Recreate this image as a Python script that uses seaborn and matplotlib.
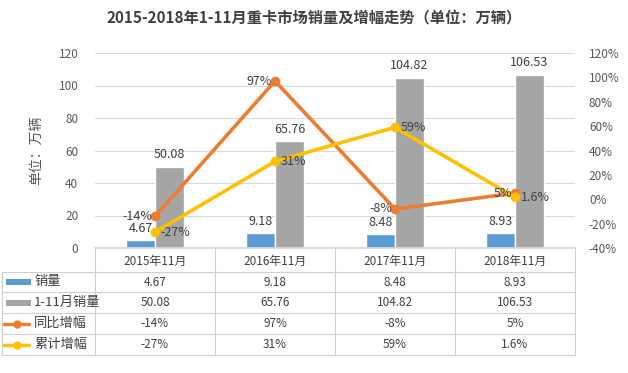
import matplotlib
matplotlib.use("Agg")
import matplotlib.pyplot as plt
import seaborn as sns
import pandas as pd
from matplotlib.lines import Line2D
from matplotlib.patches import Rectangle

# data
months = ["2015年11月", "2016年11月", "2017年11月", "2018年11月"]
sales_nov = [4.67, 9.18, 8.48, 8.93]
sales_ytd = [50.08, 65.76, 104.82, 106.53]
yoy_growth = [-14, 97, -8, 5]
ytd_growth = [-27, 31, 59, 1.6]
yoy_text = ["-14%", "97%", "-8%", "5%"]
ytd_text = ["-27%", "31%", "59%", "1.6%"]
series_names = ["销量", "1-11月销量", "同比增幅", "累计增幅"]

BLUE, GRAY, ORANGE, YELLOW = "#5B9BD5", "#A5A5A5", "#ED7D31", "#FFC000"
TXT = "#404040"
GRID = "#D9D9D9"

sns.set_theme(style="white")
plt.rcParams["font.family"] = ["Noto Sans CJK SC", "DejaVu Sans"]

W, H = 628, 373
fig = plt.figure(figsize=(W / 100, H / 100), dpi=100)
L, R, T, B = 95, 575, 53, 248
ax = fig.add_axes([L / W, 1 - B / H, (R - L) / W, (B - T) / H])

bars = pd.DataFrame({
    "month": months * 2,
    "value": sales_nov + sales_ytd,
    "series": [series_names[0]] * 4 + [series_names[1]] * 4,
})
sns.barplot(data=bars, x="month", y="value", hue="series",
            palette=[BLUE, GRAY], width=0.48, saturation=1,
            legend=False, ax=ax)
for cont in ax.containers:
    ax.bar_label(cont, labels=[f"{v:.2f}" for v in cont.datavalues],
                 padding=4, fontsize=9, color=TXT)

ax.set_ylim(0, 120)
ax.set_yticks(range(0, 121, 20))
ax.set_xlabel("")
ax.set_ylabel("单位：万辆", fontsize=10, color="#595959", labelpad=10)
ax.set_xticklabels([])
ax.tick_params(axis="y", length=0, labelsize=8.5, labelcolor="#595959", pad=12)
ax.tick_params(axis="x", length=0)
ax.grid(axis="y", color=GRID, linewidth=0.8)
ax.set_axisbelow(True)
for s in ["top", "left", "right"]:
    ax.spines[s].set_visible(False)
ax.spines["bottom"].set_color(GRID)

ax2 = ax.twinx()
lines = pd.DataFrame({
    "month": months * 2,
    "value": yoy_growth + ytd_growth,
    "series": [series_names[2]] * 4 + [series_names[3]] * 4,
})
sns.pointplot(data=lines, x="month", y="value", hue="series",
              palette=[ORANGE, YELLOW], markers="o", markersize=5,
              linewidth=2.6, legend=False, ax=ax2)
ax2.set_ylim(-40, 120)
ax2.set_yticks(range(-40, 121, 20))
ax2.set_yticklabels([f"{v}%" for v in range(-40, 121, 20)])
ax2.tick_params(axis="y", length=0, labelsize=8.5, labelcolor="#595959", pad=10)
ax2.set_xlabel("")
ax2.set_ylabel("")
for s in ["top", "left", "right", "bottom"]:
    ax2.spines[s].set_visible(False)
for i, (a, b) in enumerate(zip(yoy_growth, ytd_growth)):
    ax2.annotate(yoy_text[i], (i, a), xytext=(-2, 0), textcoords="offset points",
                 ha="right", va="center", fontsize=9, color=TXT)
    ax2.annotate(ytd_text[i], (i, b), xytext=(4, 0), textcoords="offset points",
                 ha="left", va="center", fontsize=9, color=TXT)
ax.set_xlim(-0.5, 3.5)
ax2.set_xlim(-0.5, 3.5)

fig.suptitle("2015-2018年1-11月重卡市场销量及增幅走势（单位：万辆）",
             x=0.5, y=1 - 10 / H, va="top", fontsize=11, fontweight="bold",
             color="#404040")

# data table under the plot
def fx(px):
    return px / W

def fy(py):
    return 1 - py / H

rows_y = [248, 272, 292, 313, 334, 355]
col_x = [L + i * (R - L) / 4 for i in range(5)]
lc = "#D0D0D0"
for yy in rows_y[1:]:
    fig.add_artist(Line2D([fx(2), fx(R)], [fy(yy), fy(yy)], color=lc, lw=0.8))
for xx in col_x:
    fig.add_artist(Line2D([fx(xx), fx(xx)], [fy(248), fy(355)], color=lc, lw=0.8))
fig.add_artist(Line2D([fx(2), fx(2)], [fy(272), fy(355)], color=lc, lw=0.8))

for j, m in enumerate(months):
    cx = (col_x[j] + col_x[j + 1]) / 2
    fig.text(fx(cx), fy(261), m, ha="center", va="center", fontsize=8.5, color=TXT)
    cells = [f"{sales_nov[j]:.2f}", f"{sales_ytd[j]:.2f}", yoy_text[j], ytd_text[j]]
    for r, c in enumerate(cells):
        yc = (rows_y[r + 1] + rows_y[r + 2]) / 2
        fig.text(fx(cx), fy(yc), c, ha="center", va="center", fontsize=8.5, color=TXT)

keys = [BLUE, GRAY, ORANGE, YELLOW]
for r, name in enumerate(series_names):
    yc = (rows_y[r + 1] + rows_y[r + 2]) / 2
    if r < 2:
        fig.add_artist(Rectangle((fx(6), fy(yc + 3)), fx(25), 6 / H,
                                 color=keys[r], lw=0))
    else:
        fig.add_artist(Line2D([fx(4), fx(29)], [fy(yc), fy(yc)], color=keys[r], lw=2.5))
        fig.add_artist(Line2D([fx(17)], [fy(yc)], color=keys[r], marker="o", ms=5))
    fig.text(fx(34), fy(yc), name, ha="left", va="center", fontsize=9.5, color=TXT)

fig.savefig("out.png", dpi=100)
